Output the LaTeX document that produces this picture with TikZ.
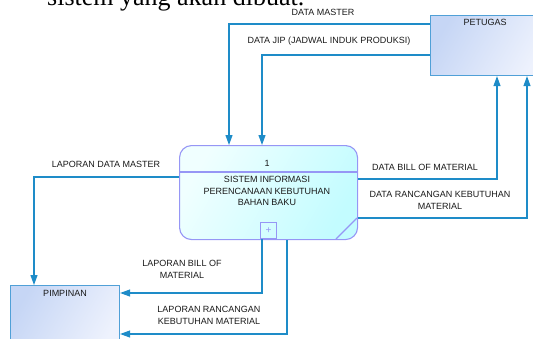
\documentclass[tikz,border=0pt]{standalone}
\usepackage{fontspec}
\setmainfont{Liberation Serif}
\setsansfont{Liberation Sans}
\usetikzlibrary{arrows.meta,calc}
\definecolor{flowc}{RGB}{30,140,200}
\definecolor{extb}{RGB}{80,160,215}
\definecolor{extA}{RGB}{198,214,245}
\definecolor{extB}{RGB}{238,242,253}
\definecolor{procb}{RGB}{150,150,245}
\definecolor{procA}{RGB}{240,255,255}
\definecolor{procB}{RGB}{195,252,255}
\definecolor{txt}{RGB}{25,25,25}
\tikzset{
  flow/.style={draw=flowc, line width=1.1pt, -{Triangle[length=10pt,width=7pt]}},
  extbox/.style={draw=extb, line width=1.1pt, left color=extA, right color=extB, shading angle=60, anchor=north west, inner sep=0pt},
  procbox/.style={draw=procb, line width=1.1pt, rounded corners=12pt, left color=procA, right color=procB, shading angle=60, anchor=north west, inner sep=0pt},
  lbl/.style={font=\sffamily\fontsize{9}{12}\selectfont, text=txt, align=center, inner sep=0pt},
}
\begin{document}
\begin{tikzpicture}[x=1pt,y=-1pt]
\useasboundingbox (0,0) rectangle (533,338);
\clip (0,0) rectangle (533,338);
% cropped caption text at the top
\node[anchor=base west, inner sep=0pt, font=\rmfamily\fontsize{26}{30}\selectfont] (cap) at (47,5) {sistem yang akan dibuat.};
% helper coordinates
\coordinate (x34) at (34,0);
\coordinate (x229) at (229,0);
\coordinate (x262) at (262,0);
\coordinate (x287) at (287,0);
\coordinate (x497) at (497,0);
\coordinate (x527) at (527,0);
\coordinate (y24) at (0,24);
\coordinate (y55) at (0,55);
\coordinate (y177) at (0,177);
\coordinate (y179) at (0,179);
\coordinate (y218) at (0,218);
\coordinate (y293) at (0,293);
\coordinate (y334) at (0,334);
\coordinate (y172) at (0,172);
% boxes
\node[extbox, minimum width=115pt, minimum height=60pt] (petugas) at (430,15) {};
\node[extbox, minimum width=109pt, minimum height=65pt] (pimpinan) at (10,285) {};
\node[procbox, minimum width=178pt, minimum height=94pt] (proc) at (179,145) {};
\draw[draw=procb, line width=1.1pt] (proc.west |- y172) -- (proc.east |- y172);
\node[draw=procb, line width=1.1pt, minimum width=16pt, minimum height=16pt, inner sep=0pt, anchor=south west, font=\sffamily\fontsize{10}{10}\selectfont, text=procb] (plus) at (260,239) {+};
\coordinate (dA) at (336,239);
\coordinate (dB) at (357,218);
\draw[draw=procb, line width=1.1pt] (dA) -- (dB);
% box texts
\node[lbl] (petugasT) at (485,22) {PETUGAS};
\node[lbl] (pimpinanT) at (65,293) {PIMPINAN};
\node[lbl] (procN) at (267,163) {1};
\node[lbl, font=\sffamily\fontsize{9}{11.6}\selectfont] (procT) at (267,191) {SISTEM INFORMASI\\PERENCANAAN KEBUTUHAN\\BAHAN BAKU};
% flows
\draw[flow] (petugas.west |- y24) -| (proc.north -| x229);
\draw[flow] (petugas.west |- y55) -| (proc.north -| x262);
\draw[flow] (proc.east |- y179) -| (petugas.south -| x497);
\draw[flow] (proc.east |- y218) -| (petugas.south -| x527);
\draw[flow] (proc.west |- y177) -| (pimpinan.north -| x34);
\draw[flow] (plus.south -| x262) |- (pimpinan.east |- y293);
\draw[flow] (proc.south -| x287) |- (pimpinan.east |- y334);
% flow labels
\node[lbl] (l1) at (323,12) {DATA MASTER};
\node[lbl] (l2) at (329,41) {DATA JIP (JADWAL INDUK PRODUKSI)};
\node[lbl] (l3) at (425,167) {DATA BILL OF MATERIAL};
\node[lbl] (l4) at (440,200.5) {DATA RANCANGAN KEBUTUHAN\\MATERIAL};
\node[lbl] (l5) at (106,164) {LAPORAN DATA MASTER};
\node[lbl] (l6) at (182,269) {LAPORAN BILL OF\\MATERIAL};
\node[lbl] (l7) at (209,315.5) {LAPORAN RANCANGAN\\KEBUTUHAN MATERIAL};
\end{tikzpicture}
\end{document}
